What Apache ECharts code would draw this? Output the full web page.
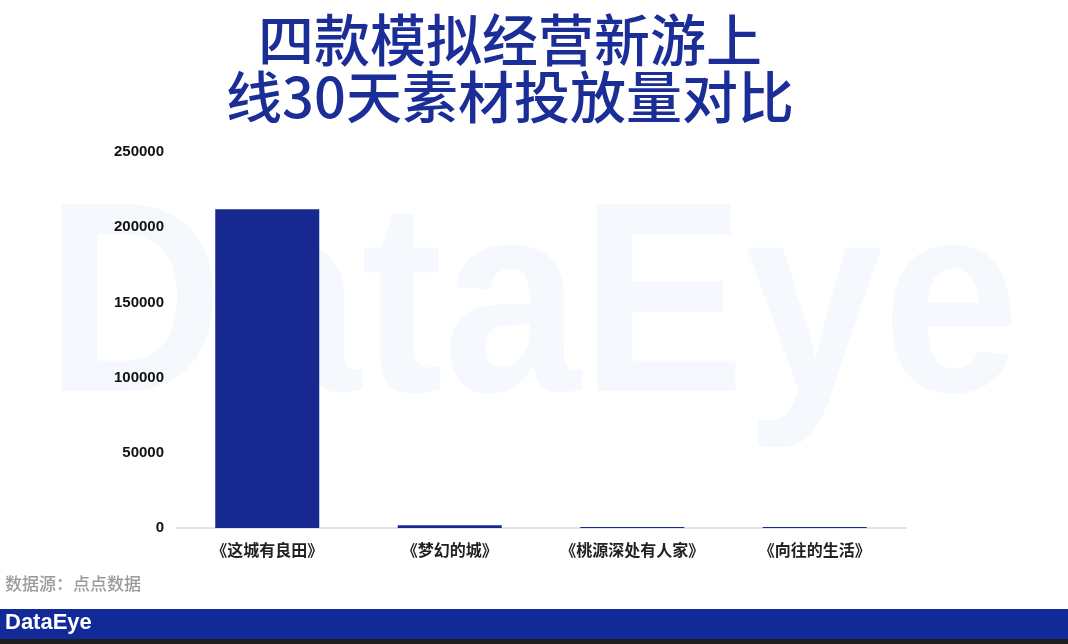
<!DOCTYPE html>
<html>
<head>
<meta charset="utf-8">
<script src="https://cdn.jsdelivr.net/npm/echarts@6/dist/echarts.min.js"></script>
<style>
html,body{margin:0;padding:0;background:#fff;}
#c{width:1068px;height:644px;}
</style>
</head>
<body>
<div id="c"></div>
<script>
const categories = ['《这城有良田》', '《梦幻的城》', '《桃源深处有人家》', '《向往的生活》'];
const values = [212000, 1800, 700, 600];
const yTicks = [0, 50000, 100000, 150000, 200000, 250000];

const chart = echarts.init(document.getElementById('c'));
chart.setOption({
  backgroundColor: '#ffffff',
  animation: false,
  title: {
    text: '四款模拟经营新游上\n线30天素材投放量对比',
    left: 510,
    top: 11,
    textAlign: 'center',
    padding: 0,
    textStyle: {
      fontFamily: 'Noto Sans CJK SC',
      fontWeight: 500,
      fontSize: 56,
      lineHeight: 57,
      color: '#1b2e98'
    }
  },
  graphic: [
    {
      type: 'text', z: -10, x: 45, y: 316, scaleY: 1.1,
      silent: true,
      style: {
        text: 'DataEye', x: 0, y: 0,
        fontFamily: 'Liberation Sans', fontWeight: 'bold', fontSize: 247,
        fill: '#f5f8fd', verticalAlign: 'middle', align: 'left'
      }
    },
    {
      type: 'text', left: 5, top: 575,
      style: { text: '数据源：点点数据', fontFamily: 'Noto Sans CJK SC', fontWeight: 500, fontSize: 17, fill: '#9a9a9a' }
    },
    {
      type: 'rect', left: 0, top: 609, shape: { width: 1068, height: 30 },
      style: { fill: '#112a97' }
    },
    {
      type: 'rect', left: 0, top: 639, shape: { width: 1068, height: 5 },
      style: { fill: '#1e1e1e' }
    },
    {
      type: 'text', left: 5, top: 612,
      style: { text: 'DataEye', fontFamily: 'Liberation Sans', fontWeight: 'bold', fontSize: 22, fill: '#ffffff' }
    }
  ],
  grid: { left: 176, right: 162, top: 152, bottom: 116, containLabel: false },
  xAxis: {
    type: 'category',
    data: categories,
    axisLine: { lineStyle: { color: '#e3e3e3', width: 2 } },
    axisTick: { show: false },
    axisLabel: { interval: 0, margin: 14, fontFamily: 'Noto Sans CJK SC', fontWeight: 'bold', fontSize: 16, color: '#222' }
  },
  yAxis: {
    type: 'value',
    min: 0, max: 250000, interval: 50000,
    axisLine: { show: false },
    axisTick: { show: false },
    splitLine: { show: false },
    axisLabel: {
      margin: 12, fontFamily: 'Liberation Sans', fontWeight: 'bold', fontSize: 15, color: '#111',
      formatter: v => yTicks.includes(v) ? String(v) : ''
    }
  },
  series: [{
    type: 'bar',
    data: values,
    barWidth: 104,
    barMinHeight: 1,
    itemStyle: { color: '#172890' }
  }]
});
</script>
</body>
</html>
